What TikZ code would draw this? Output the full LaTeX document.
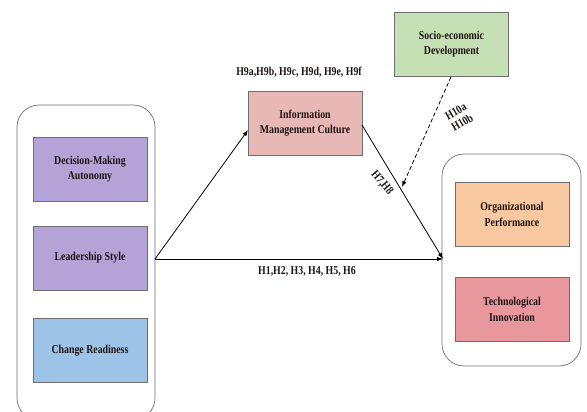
\documentclass[tikz,border=0pt]{standalone}
\usepackage{fontspec}
\setmainfont{Liberation Serif}[FakeStretch=0.82]
\usetikzlibrary{arrows.meta}
\definecolor{cpurple}{HTML}{B4A3D6}
\definecolor{cblue}{HTML}{9DC3E6}
\definecolor{cpink}{HTML}{E8B8B6}
\definecolor{cgreen}{HTML}{C5E0B4}
\definecolor{cpeach}{HTML}{F8C9A0}
\definecolor{cred}{HTML}{E8989C}
\definecolor{cborder}{HTML}{6E6E6E}
\definecolor{ctext}{HTML}{1E1414}
\begin{document}
\begin{tikzpicture}[x=1pt,y=-1pt,
  varbox/.style={draw=cborder,line width=0.8pt,minimum width=114pt,minimum height=64pt,align=center,
    font=\fontsize{12}{15.5}\selectfont\bfseries,text=ctext,inner sep=2pt},
  group/.style={draw=cborder,line width=0.7pt,rounded corners=22pt,fill=white},
  lbl/.style={font=\fontsize{12}{13}\selectfont\bfseries,text=ctext,align=center,inner sep=0pt},
  arr/.style={-{Latex[length=6pt,width=4.5pt]},line width=0.8pt}]
\useasboundingbox (0,0) rectangle (587,412);
% containers
\draw[group] (17,105) rectangle (155,420);
\draw[group] (442,154) rectangle (581,366);
% left boxes
\node[varbox,fill=cpurple] (dma) at (90,169) {Decision-Making\\Autonomy};
\node[varbox,fill=cpurple] (ls) at (90,258) {Leadership Style};
\node[varbox,fill=cblue] (cr) at (90,350.5) {Change Readiness};
% middle
\node[varbox,fill=cpink] (imc) at (305,123) {Information\\Management Culture};
\node[varbox,fill=cgreen] (sed) at (451.5,44) {Socio-economic\\Development};
% right boxes
\node[varbox,fill=cpeach] (op) at (512,214.5) {Organizational\\Performance};
\node[varbox,fill=cred] (ti) at (512,309.5) {Technological\\Innovation};
% anchor points
\coordinate (src) at (155,259);
\coordinate (tgt) at (443,259);
\coordinate (imcin) at (248,130);
\coordinate (imcout) at (362,125);
\coordinate (sedout) at (451,77);
\coordinate (modtip) at (402,187);
% connectors
\draw[arr] (src) -- (imcin);
\draw[arr] (src) -- (tgt);
\draw[arr] (imcout) -- (tgt);
\draw[arr,dashed,dash pattern=on 4pt off 2.5pt] (sedout) -- (modtip);
% labels
\node[lbl] (l9) at (299,72) {H9a,H9b, H9c, H9d, H9e, H9f};
\node[lbl] (l16) at (307,271) {H1,H2, H3, H4, H5, H6};
\node[lbl,rotate=-50] (l78) at (382,183) {H7,H8};
\node[lbl,rotate=30] (l10) at (459,117) {H10a\\H10b};
\end{tikzpicture}
\end{document}
